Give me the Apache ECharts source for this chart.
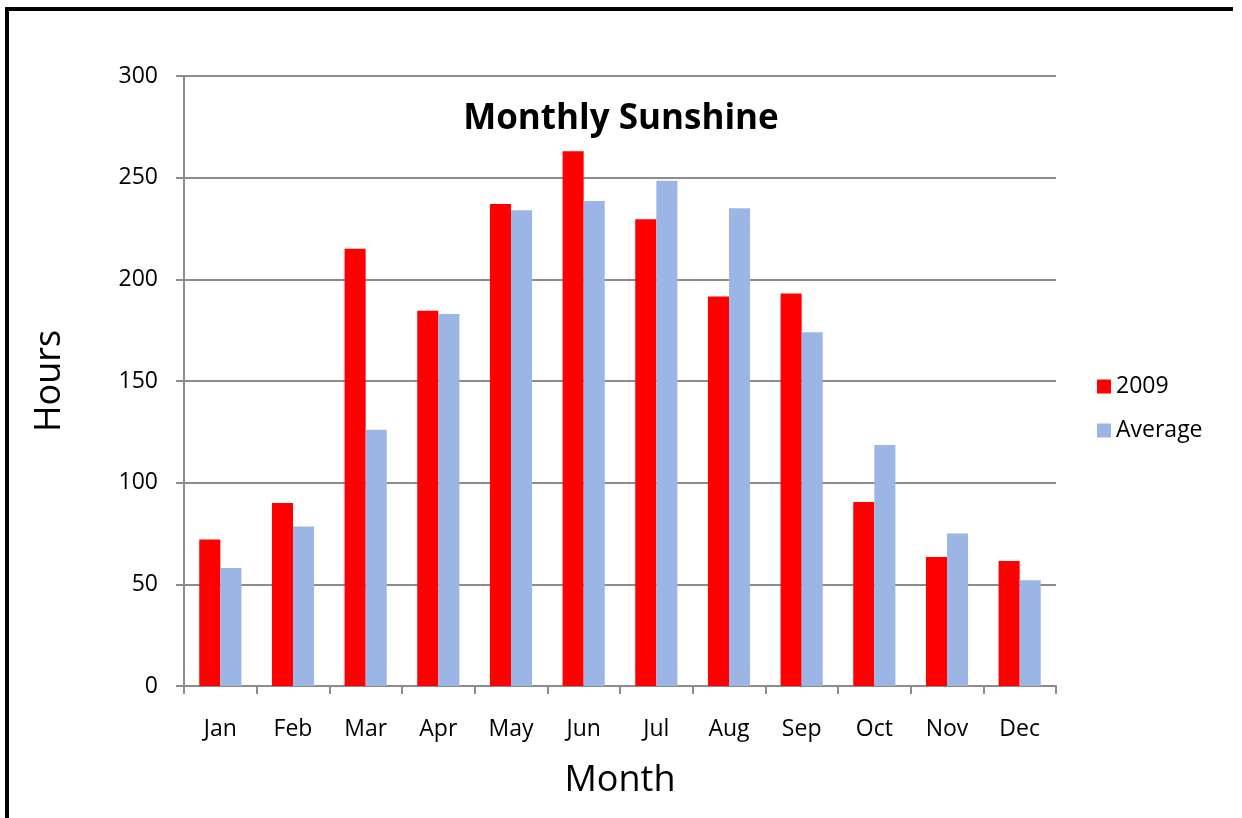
<!DOCTYPE html>
<html>
<head>
<meta charset="utf-8">
<script src="https://cdn.jsdelivr.net/npm/echarts@6/dist/echarts.min.js"></script>
<style>
html,body{margin:0;padding:0;background:#fff;}
#chart{width:1242px;height:818px;}
</style>
</head>
<body>
<div id="chart"></div>
<script>
const months = ['Jan','Feb','Mar','Apr','May','Jun','Jul','Aug','Sep','Oct','Nov','Dec'];
const sun2009 = [72, 90, 215, 184.5, 237, 263, 229.5, 191.5, 193, 90.5, 63.5, 61.5];
const sunAverage = [58, 78.5, 126, 183, 234, 238.5, 248.5, 235, 174, 118.5, 75, 52];
const yTicks = {min: 0, max: 300, interval: 50};

const FONT = 'Open Sans';
const chart = echarts.init(document.getElementById('chart'));
chart.setOption({
  backgroundColor: '#ffffff',
  animation: false,
  textStyle: {fontFamily: FONT},
  title: {
    text: 'Monthly Sunshine',
    left: 'center',
    top: 97,
    textStyle: {fontFamily: FONT, fontWeight: 'bold', fontSize: 35, color: '#000'}
  },
  legend: {
    orient: 'vertical',
    left: 1092,
    top: 370,
    itemWidth: 14,
    itemHeight: 14,
    itemGap: 21,
    icon: 'rect',
    textStyle: {fontFamily: FONT, fontSize: 23, color: '#000'},
    data: ['2009', 'Average']
  },
  grid: {left: 184, right: 186, top: 76, bottom: 132, containLabel: false},
  xAxis: {
    type: 'category',
    data: months,
    name: 'Month',
    nameLocation: 'middle',
    nameGap: 77,
    nameTextStyle: {fontFamily: FONT, fontSize: 36, color: '#000'},
    axisLine: {lineStyle: {color: '#8c8c8c', width: 2}},
    axisTick: {show: true, length: 8, lineStyle: {color: '#8c8c8c', width: 2}},
    axisLabel: {fontFamily: FONT, fontSize: 23, color: '#000', margin: 32},
    splitLine: {show: false}
  },
  yAxis: {
    type: 'value',
    min: yTicks.min,
    max: yTicks.max,
    interval: yTicks.interval,
    name: 'Hours',
    nameLocation: 'middle',
    nameRotate: 90,
    nameGap: 116,
    nameTextStyle: {fontFamily: FONT, fontSize: 36, color: '#000'},
    axisLine: {show: true, lineStyle: {color: '#8c8c8c', width: 2}},
    axisTick: {show: true, length: 8, lineStyle: {color: '#8c8c8c', width: 2}},
    axisLabel: {fontFamily: FONT, fontSize: 23, color: '#000', margin: 26},
    splitLine: {show: true, lineStyle: {color: '#8c8c8c', width: 2}}
  },
  series: [
    {name: '2009', type: 'bar', data: sun2009, barGap: '0%', barCategoryGap: '42%',
     itemStyle: {color: '#ff0000'}},
    {name: 'Average', type: 'bar', data: sunAverage, barGap: '0%', barCategoryGap: '42%',
     itemStyle: {color: '#9bb6e4'}}
  ],
  graphic: [
    {type: 'rect', shape: {x: 5, y: 7, width: 4, height: 811}, style: {fill: '#000'}},
    {type: 'rect', shape: {x: 5, y: 7, width: 1228, height: 4}, style: {fill: '#000'}}
  ]
});
</script>
</body>
</html>
